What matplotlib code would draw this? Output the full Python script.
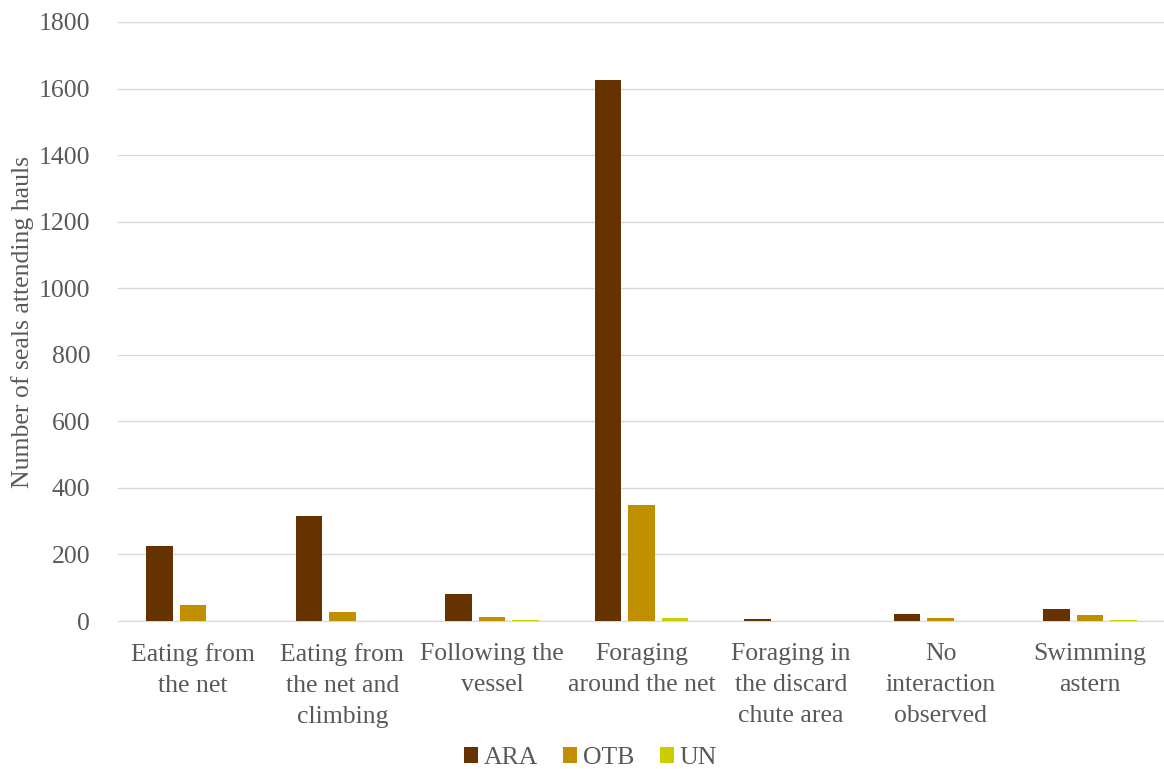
import numpy as np
import matplotlib.pyplot as plt

categories = ["Eating from\nthe net", "Eating from\nthe net and\nclimbing", "Following the\nvessel",
              "Foraging\naround the net", "Foraging in\nthe discard\nchute area", "No\ninteraction\nobserved",
              "Swimming\nastern"]
ara = [225, 315, 80, 1626, 6, 21, 37]
otb = [48, 27, 13, 349, 1, 8, 18]
un = [0, 0, 2, 8, 0, 1, 2]

plt.rcParams['font.family'] = ['Liberation Serif', 'DejaVu Serif']
TXT = '#595959'

fig = plt.figure(figsize=(11.64, 7.69), dpi=100)
ax = fig.add_axes([118 / 1164, 1 - 621 / 769, (1165 - 118) / 1164, (621 - 22) / 769])

x = np.arange(len(categories))
w = 0.177
step = 0.224
ax.bar(x - step, ara, w, color='#663300', label='ARA', zorder=3)
ax.bar(x, otb, w, color='#C09000', label='OTB', zorder=3)
ax.bar(x + step, un, w, color='#CCCC00', label='UN', zorder=3)

ax.set_xlim(-0.5, len(categories) - 0.5)
ax.set_ylim(0, 1800)
ax.set_yticks(range(0, 1801, 200))
ax.yaxis.grid(True, color='#d9d9d9', linewidth=1, zorder=0)
for s in ['top', 'right', 'left']:
    ax.spines[s].set_visible(False)
ax.spines['bottom'].set_color('#d9d9d9')
ax.tick_params(axis='both', length=0, labelsize=18.5, labelcolor=TXT)
ax.tick_params(axis='x', pad=16)
ax.tick_params(axis='y', pad=20)
ax.set_xticks(x)
ax.set_xticklabels(categories, linespacing=1.52)
ax.set_ylabel('Number of seals attending hauls', fontsize=18.5, color=TXT)
ax.yaxis.set_label_coords(-(118 - 34) / 1047, 0.5)

fig.legend(loc='lower center', bbox_to_anchor=(0.507, -0.03), ncol=3, frameon=False,
           fontsize=18.5, labelcolor=TXT, handlelength=0.55, handleheight=0.55,
           handletextpad=0.2, columnspacing=1.0)

fig.savefig('out.png', dpi=100)
